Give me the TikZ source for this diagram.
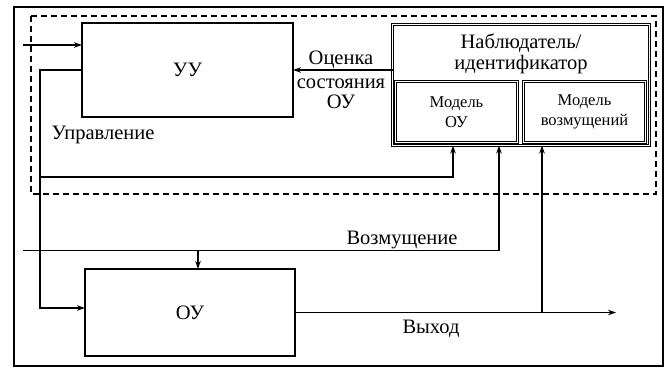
\documentclass[tikz,border=0pt]{standalone}
\usepackage{fontspec}
\setmainfont{Liberation Serif}
\usetikzlibrary{arrows.meta}

\begin{document}
\begin{tikzpicture}[
        x=1pt, y=-1pt,
        line width=1.3pt,
        >={Stealth[length=8pt,width=5.5pt]},
        block/.style={draw, rectangle, minimum width=211pt, minimum height=94pt, font=\fontsize{20.5}{24}\selectfont},
        model/.style={draw, rectangle, double, double distance=1.4pt, line width=0.9pt, minimum width=122pt, minimum height=61pt, align=center, font=\fontsize{16.5}{20}\selectfont},
        lbl/.style={align=center, font=\fontsize{20.5}{23}\selectfont}]
        
        \tikzstyle{every node}=[inner sep=0pt, outer sep=0pt]
        
        \useasboundingbox (0,0) rectangle (670,368);
        \draw[line width=2pt] (14,7) rectangle (663,366);
        \draw[dash pattern=on 6pt off 4pt, line width=1.2pt] (31,16) rectangle (656,194);
        
        % blocks
        \node[block] (uu) at (187.5,70) {УУ};
        \node[block, minimum width=210pt, minimum height=87pt] (ou) at (190,312.5) {ОУ};
        \node[model, minimum width=257pt, minimum height=121pt] (obs) at (521,85) {};
        \node[lbl] (obstitle) at (521,54) {Наблюдатель/\\[-2pt]идентификатор};
        \node[model] (mou) at (456.5,112) {Модель\\ОУ};
        \node[model] (mdist) at (584.5,112) {Модель\\возмущений};
        
        % labels
        \node[lbl] (est) at (341,80) {Оценка\\[1pt]состояния\\[-3pt]ОУ};
        \node[lbl] (ctrl) at (103,135) {Управление};
        \node[lbl] (dist) at (402,240) {Возмущение};
        \node[lbl] (out) at (431,329) {Выход};
        
        \coordinate (in) at (23,45);
        \coordinate (din) at (23,250.5);
        \coordinate (cbr) at (40,177);
        \coordinate (cdn) at (40,308);
        \coordinate (dbr) at (198,250.5);
        \coordinate (obr) at (542,312.5);
        \coordinate (yend) at (616,312.5);
        
        % connectors
        \draw[->] (in) -- (in -| uu.west);
        \draw[->] (uu.west) -| (cdn) -- (cdn -| ou.west);
        \draw[->] (cbr) -| ([xshift=-68pt]obs.south);
        \draw[->] (obs.west |- uu.east) -- (uu.east);
        \draw[->, line width=1.7pt] (din) -| ([xshift=-22pt]obs.south);
        \draw[->] (dbr) -- (dbr |- ou.north);
        \draw[->] (ou.east) -- (yend);
        \draw[->] (obr) -- ([xshift=21pt]obs.south);
    \end{tikzpicture}
\end{document}
